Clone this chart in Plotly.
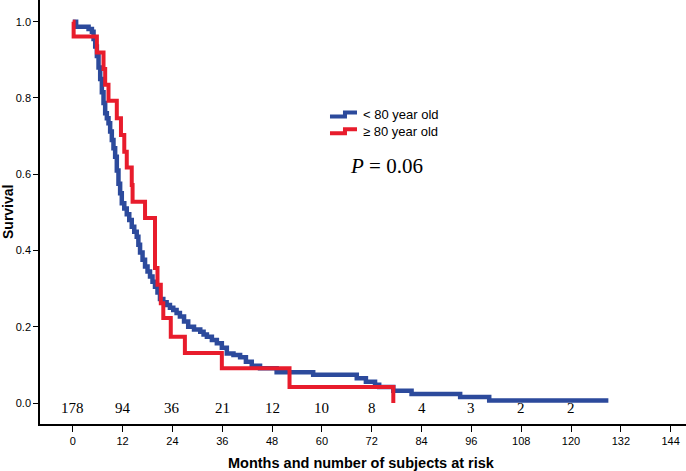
import plotly.graph_objects as go

# Kaplan-Meier steps (months, survival)
blue_months = [0, 0.8, 3.8, 4.6, 5.0, 5.4, 5.8, 6.2, 6.6, 7.0, 7.4, 7.8, 8.2, 8.6,
               9.0, 9.4, 9.8, 10.2, 10.6, 11.0, 11.4, 11.8, 12.4, 13.0, 13.6, 14.2,
               14.8, 15.4, 15.8, 16.2, 16.8, 17.4, 18.0, 18.6, 19.2, 19.8, 20.4,
               21.0, 21.8, 22.6, 23.4, 24.2, 25.0, 25.8, 26.8, 27.8, 29.2, 30.7,
               31.5, 32.3, 33.5, 34.7, 35.9, 37.1, 38.7, 40.3, 41.7, 43.1, 45.1,
               49.1, 57.9, 68.4, 70.6, 72.8, 73.8, 77.2, 81.6, 93.3, 100.3, 129.0]
blue_surv = [1.0, 0.987, 0.981, 0.974, 0.955, 0.935, 0.91, 0.88, 0.85, 0.815, 0.787,
             0.76, 0.747, 0.734, 0.712, 0.69, 0.668, 0.646, 0.61, 0.575, 0.55, 0.524,
             0.51, 0.495, 0.48, 0.462, 0.449, 0.436, 0.415, 0.395, 0.376, 0.358,
             0.345, 0.332, 0.318, 0.305, 0.29, 0.273, 0.264, 0.257, 0.25, 0.244,
             0.236, 0.227, 0.214, 0.2, 0.193, 0.187, 0.18, 0.174, 0.165, 0.157,
             0.145, 0.13, 0.126, 0.12, 0.108, 0.098, 0.0915, 0.081, 0.074, 0.065,
             0.056, 0.048, 0.042, 0.032, 0.024, 0.0155, 0.0066, 0.0066]

red_months = [0, 0.2, 5.8, 7.4, 7.8, 8.6, 10.6, 11.6, 12.4, 13.0, 14.2, 14.4, 17.4,
              19.8, 20.4, 21.2, 21.8, 23.6, 27.0, 35.9, 52.2, 77.2]
red_surv = [1.0, 0.961, 0.919, 0.876, 0.835, 0.793, 0.747, 0.703, 0.659, 0.618,
            0.572, 0.528, 0.485, 0.354, 0.31, 0.262, 0.223, 0.174, 0.131, 0.0915,
            0.042, 0.0]

risk_months = [0, 12, 24, 36, 48, 60, 72, 84, 96, 108, 120]
risk_counts = [178, 94, 36, 21, 12, 10, 8, 4, 3, 2, 2]

x_ticks = list(range(0, 145, 12))
y_ticks = [0.0, 0.2, 0.4, 0.6, 0.8, 1.0]

BLUE = 'rgb(44,74,156)'
RED = 'rgb(232,28,44)'

fig = go.Figure()

fig.add_traces([
    go.Scatter(x=blue_months, y=blue_surv, mode='lines', line_shape='hv',
               line=dict(color=BLUE, width=4.5), name='< 80 year old'),
    go.Scatter(x=red_months, y=red_surv, mode='lines', line_shape='hv',
               line=dict(color=RED, width=4), name='≥ 80 year old'),
])

# numbers at risk along the bottom
for m, n in zip(risk_months, risk_counts):
    fig.add_annotation(x=m, y=-0.0126, xref='x', yref='y', text=str(n),
                       showarrow=False, xanchor='center', yanchor='middle',
                       font=dict(family='Liberation Serif', size=15, color='black'))

# legend drawn by hand (step icons)
for name, color, y_lo, y_hi in [('< 80 year old', BLUE, 0.7252, 0.7347),
                                ('≥ 80 year old', RED, 0.6856, 0.6950)]:
    fig.add_shape(type='path', xref='paper', yref='paper',
                  path=f'M 0.4489 {y_lo} L 0.4721 {y_lo} L 0.4721 {y_hi} L 0.4907 {y_hi}',
                  line=dict(color=color, width=4))
    fig.add_annotation(x=0.4969, y=(y_lo + y_hi) / 2, xref='paper', yref='paper',
                       text=name, showarrow=False, xanchor='left', yanchor='middle',
                       font=dict(family='Liberation Sans', size=13, color='black'))

fig.add_annotation(x=0.477, y=0.608, xref='paper', yref='paper',
                   text='<i>P</i> = 0.06', showarrow=False, xanchor='left',
                   yanchor='middle',
                   font=dict(family='Liberation Serif', size=21, color='black'))

# axis titles
fig.add_annotation(x=0.497, y=-39 / 424, xref='paper', yref='paper',
                   text='<b>Months and number of subjects at risk</b>',
                   showarrow=False, xanchor='center', yanchor='middle',
                   font=dict(family='Liberation Sans', size=14.5, color='black'))
fig.add_annotation(x=-32 / 646, y=0.5, xref='paper', yref='paper',
                   text='<b>Survival</b>', textangle=-90,
                   showarrow=False, xanchor='center', yanchor='middle',
                   font=dict(family='Liberation Sans', size=14, color='black'))

fig.update_layout(
    width=686,
    height=471,
    margin={"l": 40, "r": 0, "t": 0, "b": 47, "pad": 0},
    plot_bgcolor='white',
    paper_bgcolor='white',
    showlegend=False,
    font=dict(family='Liberation Sans', color='black'),
)

fig.update_xaxes(range=[-7.9, 147.7], tickvals=x_ticks, ticks='outside', ticklen=6,
                 tickwidth=1.3, tickcolor='black', showline=True, linecolor='black',
                 linewidth=1.5, showgrid=False, zeroline=False,
                 tickfont=dict(size=11, color='black'))
fig.update_yaxes(range=[-0.055, 1.057], tickvals=y_ticks, tickformat='.1f',
                 ticks='outside', ticklen=5, tickwidth=1.3, tickcolor='black',
                 showline=True, linecolor='black', linewidth=1.5, showgrid=False,
                 zeroline=False, tickfont=dict(size=11, color='black'))

# drop the page's default body margin so the figure sits at the top-left corner
fig.write_html("out.html", config={'displayModeBar': False},
               post_script="document.body.style.margin='0';")
